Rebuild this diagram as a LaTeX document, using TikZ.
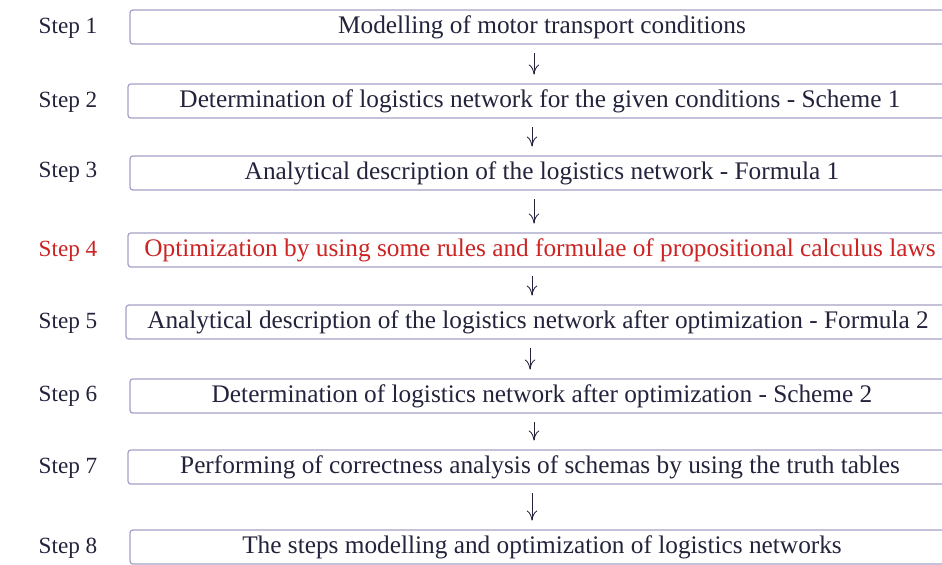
\documentclass[tikz,border=0pt]{standalone}
\usepackage{fontspec}
\setmainfont{Liberation Serif}
\usetikzlibrary{arrows.meta, positioning}
\definecolor{boxline}{RGB}{165,160,200}
\definecolor{ink}{RGB}{35,35,60}
\definecolor{stepred}{RGB}{205,35,35}

\begin{document}
\begin{tikzpicture}[
    stepbox/.style={draw=boxline, line width=0.9pt, rounded corners=2pt, minimum width=20.6cm, minimum height=0.85cm, inner xsep=0pt, inner ysep=1pt, text=ink, font=\fontsize{18}{20}\selectfont},
    steplabel/.style={text=ink, font=\fontsize{16.5}{19}\selectfont},
    flow/.style={-{To[length=2.5mm,width=2.6mm]}, ink, line width=0.6pt, shorten >=0.22cm, shorten <=0.22cm}
  ]
  \clip (0,0) rectangle (23.55,-14.1);
  \fill[white] (0,0) rectangle (23.55,-14.1);

  % Step labels
  \node[steplabel] (s1) at (1.7,-0.7) {Step 1};
  \node[steplabel] (s2) at (1.7,-2.55) {Step 2};
  \node[steplabel] (s3) at (1.7,-4.3) {Step 3};
  \node[steplabel, text=stepred] (s4) at (1.7,-6.28) {Step 4};
  \node[steplabel] (s5) at (1.7,-8.08) {Step 5};
  \node[steplabel] (s6) at (1.7,-9.9) {Step 6};
  \node[steplabel] (s7) at (1.7,-11.7) {Step 7};
  \node[steplabel] (s8) at (1.7,-13.7) {Step 8};

  % Boxes
  \node[stepbox] (b1) at (13.55,-0.675) {Modelling of motor transport conditions};
  \node[stepbox] (b2) at (13.5,-2.525) {Determination of logistics network for the given conditions - Scheme 1};
  \node[stepbox] (b3) at (13.55,-4.325) {Analytical description of the logistics network - Formula 1};
  \node[stepbox, text=stepred] (b4) at (13.5,-6.25) {Optimization by using some rules and formulae of propositional calculus laws};
  \node[stepbox] (b5) at (13.45,-8.05) {Analytical description of the logistics network after optimization - Formula 2};
  \node[stepbox] (b6) at (13.55,-9.9) {Determination of logistics network after optimization - Scheme 2};
  \node[stepbox] (b7) at (13.5,-11.675) {Performing of correctness analysis of schemas by using the truth tables};
  \node[stepbox] (b8) at (13.55,-13.675) {The steps modelling and optimization of logistics networks};

  % Arrows
  \draw[flow] ([xshift=-0.2cm]b1.south) -- ([xshift=-0.2cm]b1.south |- b2.north);
  \draw[flow] ([xshift=-0.2cm]b2.south) -- ([xshift=-0.2cm]b2.south |- b3.north);
  \draw[flow] ([xshift=-0.2cm]b3.south) -- ([xshift=-0.2cm]b3.south |- b4.north);
  \draw[flow] ([xshift=-0.2cm]b4.south) -- ([xshift=-0.2cm]b4.south |- b5.north);
  \draw[flow] ([xshift=-0.2cm]b5.south) -- ([xshift=-0.2cm]b5.south |- b6.north);
  \draw[flow] ([xshift=-0.2cm]b6.south) -- ([xshift=-0.2cm]b6.south |- b7.north);
  \draw[flow] ([xshift=-0.2cm]b7.south) -- ([xshift=-0.2cm]b7.south |- b8.north);
\end{tikzpicture}
\end{document}
